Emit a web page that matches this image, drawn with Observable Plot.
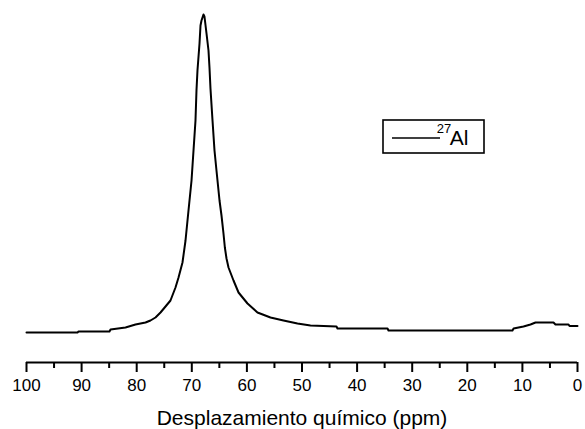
<!DOCTYPE html>
<html>
<head>
<meta charset="utf-8">
<script src="https://cdn.jsdelivr.net/npm/d3@7"></script>
<script src="https://cdn.jsdelivr.net/npm/@observablehq/plot@0.6"></script>
<style>
  html, body { margin: 0; padding: 0; background: white; }
</style>
</head>
<body>
<div id="chart"></div>
<script>
// Chemical shift (ppm) and intensity (arbitrary units)
const ppm = [100, 90.74, 90.56, 84.94, 84.75, 82.03, 80.22, 78.4, 77.5, 76.59, 75.68, 74.77, 73.87, 72.96, 72.41, 71.69, 71.14, 70.6, 70.05, 69.69, 69.33, 69.15, 68.97, 68.6, 68.42, 68.24, 67.88, 67.7, 67.33, 66.97, 66.79, 66.61, 66.24, 66.06, 65.88, 65.52, 64.97, 64.61, 64.25, 64.0, 63.7, 63.34, 62.43, 61.52, 59.89, 58.08, 55.72, 53.36, 50.82, 48.46, 43.74, 43.56, 34.48, 34.3, 11.8, 11.6, 9.8, 8.53, 7.62, 4.36, 4.0, 1.63, 1.45, 0];
const intensity = [0, 0, 1, 1, 3, 5, 8, 10, 12, 15, 20, 26, 32, 45, 55, 70, 92, 122, 152, 182, 212, 242, 262, 289, 307, 312, 318, 316, 299, 282, 265, 244, 212, 197, 182, 162, 132, 117, 99, 85, 74, 65, 52, 40, 29, 20, 15, 12, 9, 7, 6, 4, 4, 2, 2, 4, 6, 8, 10, 10, 8, 8, 6.5, 6.5];
const majorTicks = [100, 90, 80, 70, 60, 50, 40, 30, 20, 10, 0];
const minorTicks = [95, 85, 75, 65, 55, 45, 35, 25, 15, 5];
const xLabel = "Desplazamiento químico (ppm)";
const seriesLabelSup = "27";
const seriesLabelMain = "Al";

const data = ppm.map((p, i) => ({ppm: p, intensity: intensity[i]}));
const font = "'Liberation Sans', Arial, sans-serif";

const chart = Plot.plot({
  width: 585,
  height: 429,
  marginLeft: 26,
  marginRight: 8,
  marginTop: 14,
  marginBottom: 67,
  style: {fontFamily: font, fontSize: "17px", color: "black", background: "white", overflow: "visible"},
  x: {domain: [100, 0], label: null},
  y: {domain: [-30, 318], axis: null},
  marks: [
    Plot.ruleY([-30], {strokeWidth: 2, stroke: "black"}),
    Plot.axisX({ticks: minorTicks, tickSize: 6, strokeWidth: 2, text: null, label: null}),
    Plot.axisX({ticks: majorTicks, tickSize: 10, tickPadding: 6, strokeWidth: 2, label: null, fontSize: 17, fill: "black"}),
    Plot.text([xLabel], {frameAnchor: "bottom", dy: 62, lineAnchor: "bottom", fontSize: 21, fill: "black", text: d => d}),
    Plot.line(data, {x: "ppm", y: "intensity", stroke: "black", strokeWidth: 2})
  ]
});

document.getElementById("chart").appendChild(chart);

// Legend box inside the plot area
const svg = d3.select(chart);
const lg = svg.append("g").attr("font-family", font);
lg.append("rect").attr("x", 383).attr("y", 120).attr("width", 101).attr("height", 33)
  .attr("fill", "white").attr("stroke", "black").attr("stroke-width", 1.6);
lg.append("line").attr("x1", 392).attr("x2", 440).attr("y1", 138).attr("y2", 138)
  .attr("stroke", "black").attr("stroke-width", 1.4);
lg.append("text").attr("x", 444).attr("y", 133).attr("font-size", 13).attr("fill", "black").text(seriesLabelSup);
lg.append("text").attr("x", 459).attr("y", 145).attr("font-size", 21).attr("fill", "black").text(seriesLabelMain);
</script>
</body>
</html>
